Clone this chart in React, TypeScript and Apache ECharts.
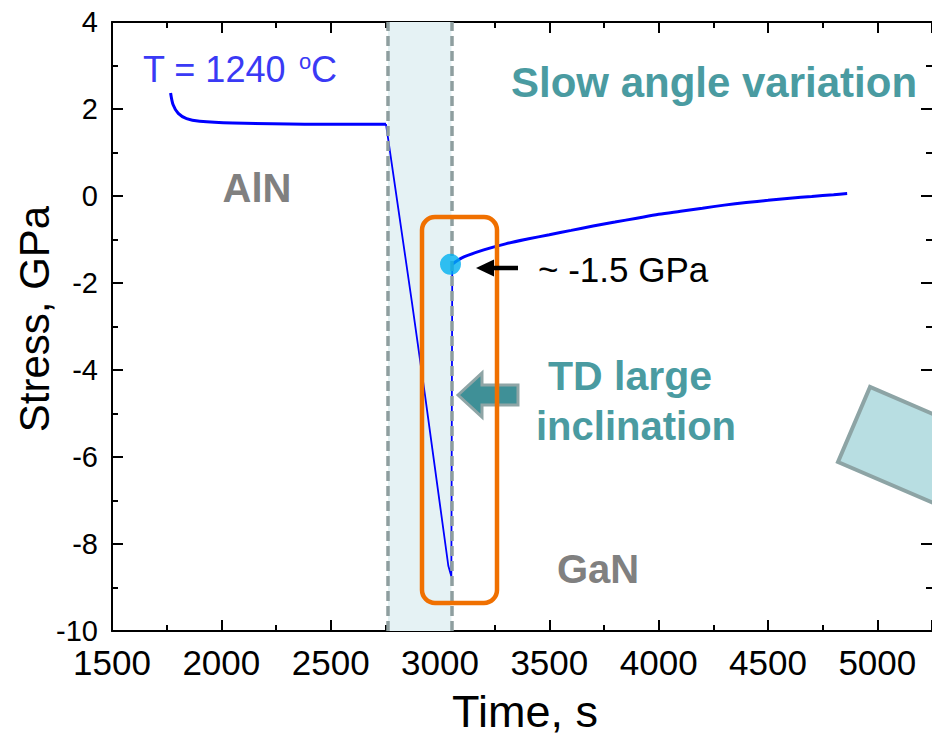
import React, { useEffect, useRef } from "react";
import * as echarts from "echarts";

// ---- data ----
const timeInitial = [1768, 1780, 1803, 1841, 1901, 2053, 2447, 2753];
const stressInitial = [2.37, 2.09, 1.9, 1.78, 1.72, 1.68, 1.65, 1.65];

const timeDrop = [2753, 2871, 2932, 3038, 3052, 3056];
const stressDrop = [1.65, -2.42, -4.6, -8.5, -8.75, -1.57];

const timeRecovery = [3056, 3100, 3200, 3300, 3400, 3500, 3600, 3700, 3800, 3900, 4000, 4100, 4200, 4300, 4400, 4500, 4600, 4700, 4800, 4862];
const stressRecovery = [-1.57, -1.42, -1.24, -1.1, -0.99, -0.89, -0.79, -0.69, -0.6, -0.51, -0.42, -0.35, -0.28, -0.21, -0.15, -0.1, -0.05, -0.01, 0.03, 0.055];

const markerTime = [3048];
const markerStress = [-1.57];

const bandStart = 2762;
const bandEnd = 3052;

const xMin = 1500;
const xMax = 5250;
const xStep = 500;
const yMin = -10;
const yMax = 4;
const yStep = 2;

const FONT = "'Liberation Sans', Arial, Helvetica, sans-serif";
const TEAL = "#4A9BA1";
const GRAY = "#808080";

const zip = (a: number[], b: number[]) => a.map((v, i) => [v, b[i]]);

const axisCommon = {
  axisLine: { show: true, onZero: false, lineStyle: { color: "#000", width: 2 } },
  axisTick: { show: true, inside: true, length: 11, lineStyle: { color: "#000", width: 2 } },
  minorTick: { show: true, splitNumber: 2, length: 6, lineStyle: { color: "#000", width: 2 } },
  splitLine: { show: false },
  minorSplitLine: { show: false },
};

const txt = (
  text: string,
  x: number,
  y: number,
  fontSize: number,
  fill: string,
  bold = false,
  align = "center",
  rotation = 0
) => ({
  type: "text",
  x,
  y,
  rotation,
  z: 100,
  silent: true,
  style: {
    text,
    fill,
    fontSize,
    fontFamily: FONT,
    fontWeight: bold ? "bold" : "normal",
    align,
    verticalAlign: "middle",
  },
});

const option: any = {
  animation: false,
  backgroundColor: "#ffffff",
  grid: { left: 112, top: 22, right: -5, height: 609, containLabel: false },
  xAxis: [
    {
      type: "value",
      position: "bottom",
      min: xMin,
      max: xMax,
      interval: xStep,
      ...axisCommon,
      axisLabel: {
        fontSize: 35,
        color: "#000",
        fontFamily: FONT,
        margin: 14,
        showMaxLabel: false,
        formatter: (v: number) => String(v),
      },
    },
    {
      type: "value",
      position: "top",
      min: xMin,
      max: xMax,
      interval: xStep,
      ...axisCommon,
      axisLabel: { show: false },
    },
  ],
  yAxis: [
    {
      type: "value",
      position: "left",
      min: yMin,
      max: yMax,
      interval: yStep,
      ...axisCommon,
      axisLabel: { fontSize: 29, color: "#000", fontFamily: FONT, margin: 14, formatter: (v: number) => String(v) },
    },
    {
      type: "value",
      position: "right",
      min: yMin,
      max: yMax,
      interval: yStep,
      ...axisCommon,
      axisLine: { show: false, onZero: false },
      axisLabel: { show: false },
    },
  ],
  series: [
    {
      type: "line",
      data: zip(timeInitial, stressInitial),
      symbol: "none",
      smooth: 0.3,
      lineStyle: { color: "#0000FF", width: 3 },
      markArea: {
        silent: true,
        itemStyle: { color: "#E5F2F4" },
        data: [[{ xAxis: bandStart }, { xAxis: bandEnd }]],
      },
      markLine: {
        silent: true,
        symbol: "none",
        label: { show: false },
        lineStyle: { color: "#8E9E9F", width: 3.5, type: [10, 5] },
        data: [{ xAxis: bandStart }, { xAxis: bandEnd }],
      },
    },
    {
      type: "line",
      data: zip(timeDrop, stressDrop),
      symbol: "none",
      lineStyle: { color: "#0000FF", width: 1.8 },
    },
    {
      type: "line",
      data: zip(timeRecovery, stressRecovery),
      symbol: "none",
      smooth: 0.3,
      lineStyle: { color: "#0000FF", width: 3 },
    },
    {
      type: "scatter",
      data: zip(markerTime, markerStress),
      symbol: "circle",
      symbolSize: 21,
      itemStyle: { color: "#00B0F0" },
      z: 10,
    },
  ],
  graphic: [
    // rotated light box at right edge
    {
      type: "polygon",
      z: 90,
      silent: true,
      shape: { points: [[870, 387], [838, 462], [1022, 541], [1054, 466]] },
      style: { fill: "#B8DEE2", stroke: "#8DA4A5", lineWidth: 4 },
    },
    // big teal arrow
    {
      type: "polygon",
      z: 95,
      silent: true,
      shape: {
        points: [[458, 395], [482, 373], [482, 385], [518, 385], [518, 405], [482, 405], [482, 417]],
      },
      style: { fill: "#3F9097", stroke: "#8FA5A6", lineWidth: 3 },
    },
    // orange rounded box
    {
      type: "rect",
      z: 100,
      silent: true,
      shape: { x: 422, y: 217, width: 75, height: 386, r: 13 },
      style: { fill: "none", stroke: "#F07000", lineWidth: 4.5 },
    },
    // black arrow
    {
      type: "line",
      z: 100,
      silent: true,
      shape: { x1: 518, y1: 268, x2: 490, y2: 268 },
      style: { stroke: "#000", lineWidth: 4.5 },
    },
    {
      type: "polygon",
      z: 100,
      silent: true,
      shape: { points: [[476, 268], [494, 259.5], [494, 276.5]] },
      style: { fill: "#000" },
    },
    txt("T = 1240", 143, 69.7, 36, "#3A3AF5", false, "left"),
    txt("o", 299, 61, 22, "#3A3AF5", false, "left"),
    txt("C", 311, 69.7, 36, "#3A3AF5", false, "left"),
    txt("Slow angle variation", 714, 82, 42, TEAL, true),
    txt("TD large", 630, 376, 41, TEAL, true),
    txt("inclination", 636, 426, 40, TEAL, true),
    txt("AlN", 257, 188, 40, GRAY, true),
    txt("GaN", 598, 569, 40, GRAY, true),
    txt("~ -1.5 GPa", 538, 269, 35, "#000", false, "left"),
    txt("Time, s", 525, 711, 45, "#000"),
    txt("Stress, GPa", 34, 319, 42, "#000", false, "center", Math.PI / 2),
  ],
};

export default function App() {
  const ref = useRef<HTMLDivElement>(null);
  useEffect(() => {
    if (!ref.current) return;
    const chart = echarts.init(ref.current, null, { renderer: "svg" });
    chart.setOption(option);
    return () => chart.dispose();
  }, []);
  return (
    <div
      ref={ref}
      style={{ position: "fixed", left: 0, top: 0, width: 932, height: 737, background: "#fff" }}
    />
  );
}
